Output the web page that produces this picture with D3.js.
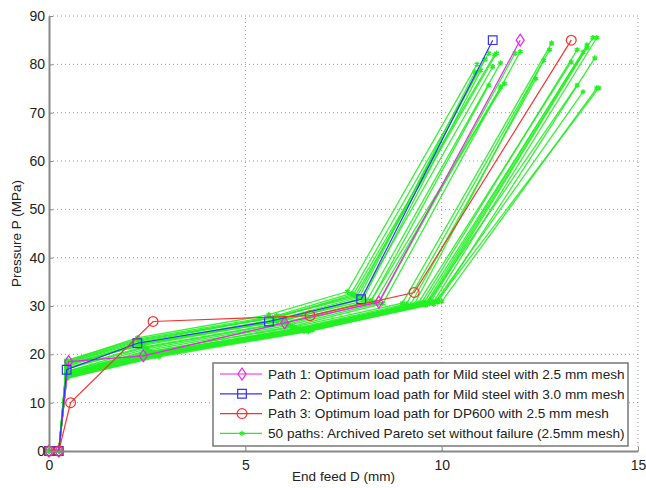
<!DOCTYPE html>
<html>
<head>
<meta charset="utf-8">
<script src="https://cdn.jsdelivr.net/npm/d3@7/dist/d3.min.js"></script>
<style>
  html, body { margin: 0; padding: 0; background: #fff; }
  svg { display: block; font-family: "Liberation Sans", Arial, sans-serif; }
</style>
</head>
<body>
<svg id="chart" width="646" height="488"></svg>
<script>
// Axis ticks
const xTicks = [0, 5, 10, 15];
const yTicks = [0, 10, 20, 30, 40, 50, 60, 70, 80, 90];

// Optimum load paths: [end feed D (mm), pressure P (MPa)]
const path1 = [[0, 0], [0.25, 0], [0.5, 18.5], [2.4, 19.7], [6.0, 26.5], [8.4, 30.8], [12.0, 85.0]];
const path2 = [[0, 0], [0.25, 0], [0.45, 16.8], [2.25, 22.3], [5.6, 26.8], [7.95, 31.4], [11.3, 85.0]];
const path3 = [[0, 0], [0.25, 0], [0.55, 10.0], [2.65, 26.8], [6.65, 28.0], [9.3, 32.8], [13.3, 85.0]];

// Archived Pareto set without failure
const paretoPaths = [
  [[0, 0], [0.25, 0], [0.45, 18.8], [2.3, 23.2], [5.8, 28.0], [7.7, 32.6], [11.2, 82.3]],
  [[0, 0], [0.25, 0], [0.45, 18.3], [2.3, 22.8], [5.7, 27.6], [7.8, 32.2], [11.4, 82.3]],
  [[0, 0], [0.25, 0], [0.45, 17.9], [2.4, 22.4], [5.9, 27.4], [7.9, 31.8], [10.85, 78.4]],
  [[0, 0], [0.25, 0], [0.45, 17.5], [2.3, 22.0], [6.0, 27.0], [8.0, 31.5], [11.0, 78.8]],
  [[0, 0], [0.25, 0], [0.45, 18.0], [2.35, 21.8], [5.8, 26.8], [8.1, 31.2], [11.5, 80.3]],
  [[0, 0], [0.25, 0], [0.45, 17.2], [2.4, 21.5], [6.0, 26.6], [8.2, 31.0], [11.2, 75.7]],
  [[0, 0], [0.25, 0], [0.45, 16.5], [2.5, 21.2], [6.1, 26.3], [8.3, 30.8], [11.5, 75.3]],
  [[0, 0], [0.25, 0], [0.45, 18.5], [2.3, 23.0], [5.9, 27.8], [7.75, 32.4], [11.35, 82.0]],
  [[0, 0], [0.25, 0], [0.45, 16.0], [2.5, 20.8], [6.1, 26.0], [8.4, 30.6], [11.87, 82.3]],
  [[0, 0], [0.25, 0], [0.45, 15.8], [2.6, 20.5], [6.2, 25.8], [8.5, 30.5], [12.0, 82.6]],
  [[0, 0], [0.25, 0], [0.45, 17.0], [2.45, 21.4], [6.0, 26.5], [8.2, 31.1], [11.6, 76.0]],
  [[0, 0], [0.25, 0], [0.45, 18.6], [2.25, 23.4], [5.6, 28.2], [7.6, 33.0], [10.9, 80.0]],
  [[0, 0], [0.25, 0], [0.45, 18.2], [2.35, 22.6], [5.75, 27.7], [7.85, 32.0], [11.1, 81.0]],
  [[0, 0], [0.25, 0], [0.45, 17.7], [2.4, 22.2], [5.95, 27.2], [7.95, 31.6], [11.3, 79.5]],
  [[0, 0], [0.25, 0], [0.45, 16.5], [2.5, 20.5], [6.2, 25.6], [9.0, 30.6], [12.8, 84.4]],
  [[0, 0], [0.25, 0], [0.45, 16.0], [2.55, 20.2], [6.3, 25.4], [9.1, 30.4], [12.75, 83.0]],
  [[0, 0], [0.25, 0], [0.45, 15.5], [2.6, 20.0], [6.3, 25.2], [9.2, 30.2], [12.4, 77.0]],
  [[0, 0], [0.25, 0], [0.45, 15.3], [2.7, 19.8], [6.4, 25.0], [9.5, 30.8], [13.45, 83.0]],
  [[0, 0], [0.25, 0], [0.45, 15.0], [2.7, 19.6], [6.5, 24.8], [9.6, 30.5], [13.7, 84.0]],
  [[0, 0], [0.25, 0], [0.45, 16.2], [2.6, 20.3], [6.4, 25.3], [9.7, 31.2], [13.85, 85.5]],
  [[0, 0], [0.25, 0], [0.45, 15.6], [2.65, 19.9], [6.5, 25.0], [9.8, 30.9], [13.95, 85.5]],
  [[0, 0], [0.25, 0], [0.45, 15.2], [2.75, 19.7], [6.6, 24.9], [9.7, 30.6], [13.7, 83.4]],
  [[0, 0], [0.25, 0], [0.45, 15.8], [2.7, 20.1], [6.5, 25.1], [9.9, 30.8], [13.9, 81.3]],
  [[0, 0], [0.25, 0], [0.45, 15.1], [2.8, 19.5], [6.6, 24.7], [9.6, 30.2], [13.45, 75.7]],
  [[0, 0], [0.25, 0], [0.45, 15.4], [2.75, 19.8], [6.6, 24.8], [9.8, 30.4], [13.6, 74.3]],
  [[0, 0], [0.25, 0], [0.45, 15.9], [2.7, 20.0], [6.7, 25.0], [10.0, 30.9], [13.95, 75.1]],
  [[0, 0], [0.25, 0], [0.45, 16.3], [2.6, 20.4], [6.5, 25.2], [9.9, 31.2], [14.0, 75.1]],
  [[0, 0], [0.25, 0], [0.45, 15.7], [2.65, 20.0], [6.4, 25.1], [9.4, 30.6], [13.3, 80.5]],
  [[0, 0], [0.25, 0], [0.45, 15.4], [2.7, 19.9], [6.5, 24.9], [9.3, 30.3], [12.6, 80.8]],
  [[0, 0], [0.25, 0], [0.45, 15.9], [2.6, 20.2], [6.35, 25.3], [9.55, 30.7], [13.6, 82.5]]
];

const legendLabels = [
  "Path 1: Optimum load path for Mild steel with 2.5 mm mesh",
  "Path 2: Optimum load path for Mild steel with 3.0 mm mesh",
  "Path 3: Optimum load path for DP600 with 2.5 mm mesh",
  "50 paths: Archived Pareto set without failure (2.5mm mesh)"
];

const svg = d3.select("#chart");
const margin = { left: 49, right: 8, top: 16, bottom: 37 };
const W = 646, H = 488;

const x = d3.scaleLinear().domain([0, 15]).range([margin.left, W - margin.right]);
const y = d3.scaleLinear().domain([0, 90]).range([H - margin.bottom, margin.top]);

const gridColor = "#9a9a9a";

// Dotted grid
const grid = svg.append("g");
grid.selectAll("line.gx").data(xTicks.filter(d => d > 0)).join("line")
  .attr("x1", d => x(d)).attr("x2", d => x(d))
  .attr("y1", y(0)).attr("y2", y(90))
  .attr("stroke", gridColor).attr("stroke-width", 1)
  .attr("stroke-dasharray", "1,3");
grid.selectAll("line.gy").data(yTicks.filter(d => d > 0)).join("line")
  .attr("x1", x(0)).attr("x2", x(15))
  .attr("y1", d => y(d)).attr("y2", d => y(d))
  .attr("stroke", gridColor).attr("stroke-width", 1)
  .attr("stroke-dasharray", "1,3");

const line = d3.line().x(d => x(d[0])).y(d => y(d[1]));

// Pareto paths
const green = "#22f022";
const gPareto = svg.append("g");
paretoPaths.forEach(p => {
  gPareto.append("path").datum(p).attr("d", line)
    .attr("fill", "none").attr("stroke", green).attr("stroke-width", 1.3).attr("stroke-opacity", 0.9);
});
const star = d3.symbol().type(d3.symbolAsterisk).size(20);
paretoPaths.forEach(p => {
  gPareto.selectAll(null).data(p).join("path")
    .attr("d", star)
    .attr("transform", d => `translate(${x(d[0])},${y(d[1])})`)
    .attr("fill", "none").attr("stroke", green).attr("stroke-width", 1.4);
});

// Optimum paths
const diamond = "M0,-6L4,0L0,6L-4,0Z";
const series = [
  { data: path1, color: "#ee22ee", marker: diamond },
  { data: path2, color: "#3333f5", marker: d3.symbol().type(d3.symbolSquare).size(75)() },
  { data: path3, color: "#f53333", marker: d3.symbol().type(d3.symbolCircle).size(75)() }
];
series.forEach(s => {
  svg.append("path").datum(s.data).attr("d", line)
    .attr("fill", "none").attr("stroke", s.color).attr("stroke-width", 1.2);
  svg.append("g").selectAll("path").data(s.data).join("path")
    .attr("d", s.marker)
    .attr("transform", d => `translate(${x(d[0])},${y(d[1])})`)
    .attr("fill", "none").attr("stroke", s.color).attr("stroke-width", 1.2);
});

// Axes
const axisColor = "#888";
const xAxis = svg.append("g").attr("transform", `translate(0,${y(0)})`)
  .call(d3.axisBottom(x).tickValues(xTicks).tickSizeInner(-4).tickSizeOuter(0).tickPadding(7));
const yAxis = svg.append("g").attr("transform", `translate(${x(0)},0)`)
  .call(d3.axisLeft(y).tickValues(yTicks).tickSizeInner(-4).tickSizeOuter(0).tickPadding(4));
[xAxis, yAxis].forEach(a => {
  a.select(".domain").attr("stroke", axisColor).attr("stroke-width", 2);
  a.selectAll(".tick line").attr("stroke", axisColor);
  a.selectAll(".tick text").attr("fill", "#222").attr("font-size", 14)
    .attr("font-family", "'Liberation Sans', Arial, sans-serif");
});
xAxis.selectAll(".tick text").attr("dy", "0.85em");

// Axis titles
svg.append("text").attr("x", (x(0) + x(15)) / 2).attr("y", 481)
  .attr("text-anchor", "middle").attr("font-size", 13.5).attr("fill", "#222")
  .text("End feed D (mm)");
svg.append("text")
  .attr("transform", `translate(21,${(y(0) + y(90)) / 2}) rotate(-90)`)
  .attr("text-anchor", "middle").attr("font-size", 13.5).attr("fill", "#222")
  .text("Pressure P (MPa)");

// Legend
const lg = svg.append("g").attr("transform", "translate(213,363)");
lg.append("rect").attr("width", 415).attr("height", 83)
  .attr("fill", "#fff").attr("stroke", "#777").attr("stroke-width", 1.5);
const legendStyles = [
  { color: "#ee22ee", marker: diamond },
  { color: "#3333f5", marker: d3.symbol().type(d3.symbolSquare).size(75)() },
  { color: "#f53333", marker: d3.symbol().type(d3.symbolCircle).size(75)() },
  { color: green, marker: d3.symbol().type(d3.symbolAsterisk).size(20)() }
];
legendLabels.forEach((t, i) => {
  const row = lg.append("g").attr("transform", `translate(0,${11 + i * 19.8})`);
  row.append("line").attr("x1", 7).attr("x2", 49).attr("y1", 0).attr("y2", 0)
    .attr("stroke", legendStyles[i].color).attr("stroke-width", 1.2);
  row.append("path").attr("d", legendStyles[i].marker)
    .attr("transform", "translate(29,0)")
    .attr("fill", "none").attr("stroke", legendStyles[i].color).attr("stroke-width", 1.2);
  row.append("text").attr("x", 55).attr("y", 0).attr("dy", "0.35em")
    .attr("font-size", 13.6).attr("fill", "#222").text(t);
});
</script>
</body>
</html>
